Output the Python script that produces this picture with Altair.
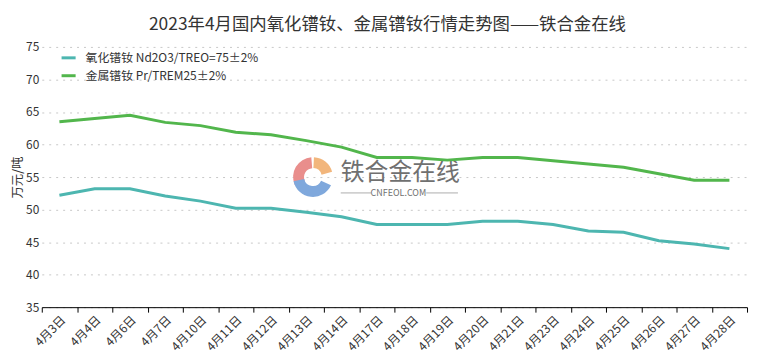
import altair as alt
import pandas as pd

dates = ["4月3日", "4月4日", "4月6日", "4月7日", "4月10日", "4月11日", "4月12日", "4月13日",
         "4月14日", "4月17日", "4月18日", "4月19日", "4月20日", "4月21日", "4月23日", "4月24日",
         "4月25日", "4月26日", "4月27日", "4月28日"]
series_names = ["氧化镨钕 Nd2O3/TREO=75±2%", "金属镨钕 Pr/TREM25±2%"]
oxide = [52.2, 53.2, 53.2, 52.1, 51.3, 50.2, 50.2, 49.6, 48.9, 47.7, 47.7, 47.7, 48.2, 48.2,
         47.7, 46.7, 46.5, 45.2, 44.7, 44.0]
metal = [63.5, 64.0, 64.5, 63.4, 62.9, 61.9, 61.5, 60.6, 59.6, 58.0, 58.0, 57.6, 58.0, 58.0,
         57.5, 57.0, 56.5, 55.5, 54.5, 54.5]
colors = ["#4db6b0", "#52b64c"]

FONT = "Noto Sans CJK SC"

rows = []
for d, v in zip(dates, oxide):
    rows.append({"date": d, "series": series_names[0], "value": v})
for d, v in zip(dates, metal):
    rows.append({"date": d, "series": series_names[1], "value": v})
df = pd.DataFrame(rows)

W, H = 710, 262

lines = alt.Chart(df).mark_line(strokeWidth=3).encode(
    x=alt.X("date:N", sort=dates, title=None,
            scale=alt.Scale(paddingInner=0, paddingOuter=0),
            axis=alt.Axis(tickBand="extent", labelAngle=-45, labelFontSize=12,
                          labelColor="#333333", labelFont=FONT, domainColor="#000000",
                          tickColor="#000000", tickSize=5, grid=False, labelPadding=2)),
    y=alt.Y("value:Q", title="万元/吨",
            scale=alt.Scale(domain=[35, 75], nice=False, zero=False),
            axis=alt.Axis(values=[35, 40, 45, 50, 55, 60, 65, 70, 75], domain=False, ticks=False,
                          labelFontSize=12, labelColor="#333333", labelFont=FONT, labelPadding=3,
                          gridColor="#c8c8c8", gridDash=[2, 5], gridWidth=1,
                          titleFont=FONT, titleFontSize=12.5, titleFontWeight="normal",
                          titleColor="#333333", titlePadding=1)),
    color=alt.Color("series:N", sort=series_names,
                    scale=alt.Scale(domain=series_names, range=colors),
                    legend=alt.Legend(title=None, orient="none", legendX=18, legendY=2,
                                      symbolType="stroke", symbolStrokeWidth=3, symbolSize=200,
                                      labelFont=FONT, labelFontSize=12, labelColor="#333333",
                                      labelLimit=400, rowPadding=3, labelOffset=8)),
)

one = pd.DataFrame({"a": [0]})
cx, cy = 315 - 42, 177 - 46
arc_orange = alt.Chart(one).mark_arc(theta=0.05, theta2=1.3, radius=20, radius2=9,
                                     color="#f2b67c").encode(x=alt.value(cx), y=alt.value(cy))
arc_pink = alt.Chart(one).mark_arc(theta=4.3, theta2=6.2, radius=20, radius2=9,
                                   color="#e98e8c").encode(x=alt.value(cx), y=alt.value(cy))
arc_blue = alt.Chart(one).mark_arc(theta=2.0, theta2=4.5, radius=20, radius2=9,
                                   color="#7fa8dc").encode(x=alt.value(cx), y=alt.value(cy))
wm_text = alt.Chart(one).mark_text(text="铁合金在线", font=FONT, fontSize=24, color="#707070",
                                   align="left", baseline="middle").encode(
    x=alt.value(343 - 42), y=alt.value(173 - 46))
wm_sub = alt.Chart(one).mark_text(text="CNFEOL.COM", font=FONT, fontSize=9, color="#707070",
                                  align="center", baseline="middle").encode(
    x=alt.value(401 - 42), y=alt.value(193 - 46))
wm_l1 = alt.Chart(one).mark_rule(color="#999999", strokeWidth=0.8).encode(
    x=alt.value(343 - 42), x2=alt.value(374 - 42), y=alt.value(193 - 46))
wm_l2 = alt.Chart(one).mark_rule(color="#999999", strokeWidth=0.8).encode(
    x=alt.value(429 - 42), x2=alt.value(461 - 42), y=alt.value(193 - 46))

chart = alt.layer(arc_orange, arc_pink, arc_blue, wm_text, wm_sub, wm_l1, wm_l2, lines).properties(
    width=W, height=H,
    title=alt.TitleParams("2023年4月国内氧化镨钕、金属镨钕行情走势图——铁合金在线", font=FONT,
                          fontSize=17.5, fontWeight="normal", color="#333333", anchor="middle",
                          offset=8, dx=-7),
    autosize=alt.AutoSizeParams(type="none"),
    padding={"left": 34, "top": 38, "right": 5, "bottom": 50},
).configure_view(stroke=None)

chart.save("out.html", embed_options={"renderer": "svg", "actions": False})
